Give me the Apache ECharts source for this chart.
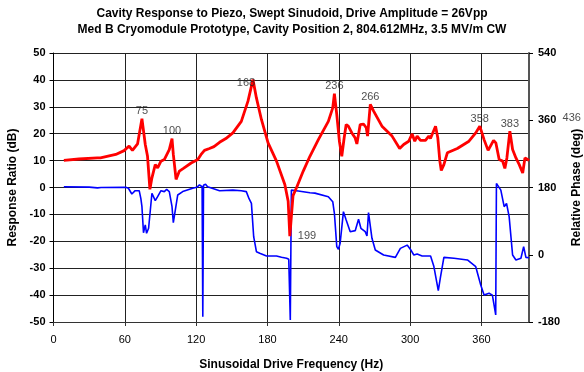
<!DOCTYPE html>
<html>
<head>
<meta charset="utf-8">
<script src="https://cdn.jsdelivr.net/npm/echarts@6/dist/echarts.min.js"></script>
<style>
  html, body { margin: 0; padding: 0; background: #fff; }
  #chart { width: 584px; height: 372px; }
</style>
</head>
<body>
<div id="chart"></div>
<script>
// response ratio (dB)
const ratioFreq = [8.7, 21.4, 36.8, 38, 39.5, 52.4, 59.4, 63.6, 66.4, 70.7, 74.4, 77.2, 79.1, 81.1, 82.8, 85.6, 87.6, 90.4, 93.2, 97.4,
  99.7, 100.8, 103.1, 105.9, 109.3, 115.8, 121.4, 124, 127, 131.2, 135, 139.7, 145, 150.9, 158, 163.6, 167.8, 170.7, 174.9, 180.5,
  187.6, 194.6, 197.4, 198.8, 201.5, 204.5, 210.1, 215.7, 222.8, 231.2, 234.9, 236.3, 238.3, 240.5, 242.5, 244.5, 246.2, 248, 251, 253.8,
  255.2, 258, 260.8, 263.1, 264.2, 266.5, 269.3, 276.3, 284.8, 291.2, 294.6, 298.8, 301.7, 303.9, 305.9, 308.7, 312.9, 315.7, 317.1, 321.4,
  323.3, 325, 326.2, 328.4, 331.3, 339.7, 349.5, 355.2, 358.6, 362.2, 365.6, 370.2, 372.1, 374.9, 377.8, 379.7, 381.4, 383.9, 386.2, 389,
  391.8, 394.7, 396.6, 398.9, 400]
const ratioDb = [10.1, 10.6, 11.0, 11.5, 11.0, 12.3, 13.7, 15.4, 13.8, 16.2, 25.6, 16, 11.6, -0.7, 3.6, 8.5, 7.3, 9.8, 10.4, 14.1,
  18.2, 12.3, 3.0, 6.1, 7.1, 9.1, 10.4, 12.2, 13.8, 14.5, 15.2, 16.8, 18.2, 20.3, 24.6, 32.1, 40.1, 33.3, 25.3, 16.6,
  9.8, 1.1, -5.1, -18.1, -3, 0, 6.1, 11.6, 17.8, 24.6, 29.6, 34.9, 27.1, 17.2, 11.6, 18.4, 23.4, 22.8, 20.3, 18.4,
  16.2, 23.4, 23.6, 22.2, 19.1, 30.9, 28.4, 22.8, 19.1, 14.5, 16, 17.2, 19.9, 17.2, 19.1, 17.5, 17.5, 19.1, 18.2, 22.8,
  18.4, 9.8, 6.3, 8.5, 12.9, 14.5, 17.2, 20.3, 22.8, 17.8, 13.8, 17.5, 16.6, 10.4, 9.8, 7.1, 11, 20.9, 14.1, 11,
  8.5, 5.4, 11, 10.4, 10]

// relative phase (deg)
const phaseFreq = [8.7, 30, 37, 38.3, 40, 60.8, 63, 65.9, 68.7, 72.1, 73.5, 74.4, 75.7, 77.2, 78.3, 80, 82.8, 84.2, 85.6, 87.6,
  90.4, 93.2, 95.2, 97.4, 99.7, 100.8, 102.5, 104.5, 108.7, 117.1, 120.5, 122.8, 125, 125.6, 126.2, 127.9, 129.6, 139.7, 150.9, 158,
  162.2, 164.5, 166.5, 168.4, 170.7, 173.5, 179.2, 187.6, 191.8, 196.1, 197.9, 199.2, 200.1, 201.6, 205.9, 215.7, 219.9, 231.2, 234.9, 236.3,
  238.3, 239.7, 241.1, 243.9, 246.2, 249.6, 253.8, 256.6, 258.6, 262.2, 263.7, 265, 267.9, 270.7, 277.7, 287.6, 291.8, 297.5, 300.3, 303.1,
  305.9, 310.1, 317.2, 320, 323.7, 325.6, 328.4, 336.9, 348.2, 355.2, 359.4, 362.2, 366.4, 369.2, 372, 372.6, 376.3, 379.1, 381.1, 383.3,
  386.2, 389, 393.2, 395.5, 397.4, 400]
const phaseDeg = [182, 181, 179, 176, 180, 180.6, 178, 162.6, 171.5, 171.5, 150, 128.6, 59, 79.8, 57.5, 70.8, 164.5, 169, 144.7, 155.5,
  171.5, 169, 175, 169, 128.6, 85.8, 119.8, 160, 169, 178, 180.6, 187, 182, -166, 186, 189, 182, 171.5, 173, 171.5,
  169, 150, 137.6, 48.3, 8.2, 4, -3.2, -3.2, -6.7, -9.4, -12, -174.6, 173, 169, 170.5, 166, 165, 155.5, 142, 111,
  21.7, 14.7, 30.6, 115.4, 93.1, 61.8, 64.5, 95, 70.8, 61.8, 50.3, 112.7, 44, 12.7, -0.7, -7, 17, 25.8, 14.3, -0.7,
  2, -3.2, -3.2, -31.7, -96, -58.7, -7, -9.5, -14, -32, -81, -108, -103, -108, -161, 191, 173, 128.6, 137.6, 102,
  -0.7, -14, -9.5, 21.7, -7, -8]

// resonance labels
const peakFreq = [74.4, 99.7, 167.8, 198.8, 236.3, 266.5, 358.6, 383.9, 436]
const peakDb = [25.6, 18.2, 40.1, -18.1, 34.9, 30.9, 22.8, 20.9, 23.1]
const peakText = ['75', '100', '168', '199', '236', '266', '358', '383', '436']

const xTicks = [0, 60, 120, 180, 240, 300, 360]

const FONT = 'Liberation Sans, Arial, sans-serif'

function pairs (xs, ys) {
  return xs.map((x, i) => [x, ys[i]])
}

// a couple of the labels sit beside the point rather than above it
const labelPlace = {
  '168': { position: 'inside', offset: [-7, 3] },
  '199': { position: 'right', distance: 8 }
}

const chart = echarts.init(document.getElementById('chart'), null, { renderer: 'canvas' })

const option = {
  backgroundColor: '#fff',
  animation: false,
  title: {
    text: 'Cavity Response to Piezo, Swept Sinudoid, Drive Amplitude = 26Vpp\nMed B Cryomodule Prototype, Cavity Position 2, 804.612MHz, 3.5 MV/m CW',
    left: 'center',
    top: 6,
    padding: 0,
    textStyle: { fontFamily: FONT, fontSize: 12, fontWeight: 'bold', color: '#000', lineHeight: 15.5 }
  },
  grid: {
    left: 53.5,
    right: 55,
    top: 53,
    bottom: 50,
    containLabel: false,
    outerBoundsMode: 'none'
  },
  xAxis: {
    type: 'value',
    min: 0,
    max: 400,
    interval: 60,
    name: 'Sinusoidal Drive Frequency (Hz)',
    nameLocation: 'middle',
    nameGap: 37,
    nameTextStyle: { fontFamily: FONT, fontSize: 12, fontWeight: 'bold', color: '#000' },
    axisLine: { show: true, onZero: false, lineStyle: { color: '#333', width: 1 } },
    axisTick: { show: true, inside: false, length: 4, lineStyle: { color: '#333' } },
    axisLabel: {
      fontFamily: FONT,
      fontSize: 11,
      color: '#000',
      margin: 12,
      showMaxLabel: false,
      formatter: (v) => (xTicks.indexOf(v) >= 0 ? String(v) : '')
    },
    splitLine: { show: true, lineStyle: { color: '#222', width: 1 } }
  },
  yAxis: [
    {
      type: 'value',
      min: -50,
      max: 50,
      interval: 10,
      position: 'left',
      name: 'Response Ratio (dB)',
      nameLocation: 'middle',
      nameRotate: 90,
      nameGap: 32,
      nameTextStyle: { fontFamily: FONT, fontSize: 12, fontWeight: 'bold', color: '#000' },
      axisLine: { show: true, onZero: false, lineStyle: { color: '#000', width: 1 } },
      axisTick: { show: true, inside: false, length: 4, lineStyle: { color: '#000' } },
      axisLabel: { fontFamily: FONT, fontSize: 11, fontWeight: 'bold', color: '#000', margin: 8 },
      splitLine: { show: true, lineStyle: { color: '#222', width: 1 } }
    },
    {
      type: 'value',
      min: -180,
      max: 540,
      interval: 180,
      position: 'right',
      name: 'Relative Phase (deg)',
      nameLocation: 'middle',
      nameRotate: 90,
      nameGap: 35,
      nameTextStyle: { fontFamily: FONT, fontSize: 12, fontWeight: 'bold', color: '#000' },
      axisLine: { show: true, onZero: false, lineStyle: { color: '#555', width: 2 } },
      axisTick: { show: true, inside: false, length: 4, lineStyle: { color: '#000' } },
      axisLabel: { fontFamily: FONT, fontSize: 11, fontWeight: 'bold', color: '#000', margin: 9 },
      splitLine: { show: false }
    }
  ],
  series: [
    {
      name: 'Relative Phase',
      type: 'line',
      yAxisIndex: 1,
      data: pairs(phaseFreq, phaseDeg),
      showSymbol: false,
      symbol: 'none',
      lineStyle: { color: '#0000ff', width: 1.6 },
      z: 2
    },
    {
      name: 'Response Ratio',
      type: 'line',
      yAxisIndex: 0,
      data: pairs(ratioFreq, ratioDb),
      showSymbol: false,
      symbol: 'none',
      lineStyle: { color: '#ff0000', width: 2.8 },
      z: 3
    },
    {
      name: 'Peaks',
      type: 'scatter',
      yAxisIndex: 0,
      clip: false,
      symbolSize: 0,
      silent: true,
      data: peakFreq.map((f, i) => {
        const place = labelPlace[peakText[i]] || { position: 'top', distance: 2 }
        return {
          value: [f, peakDb[i]],
          label: Object.assign({ show: true, formatter: peakText[i] }, place)
        }
      }),
      label: { fontFamily: FONT, fontSize: 11, color: '#222' },
      z: 4
    }
  ]
}

chart.setOption(option)
</script>
</body>
</html>
